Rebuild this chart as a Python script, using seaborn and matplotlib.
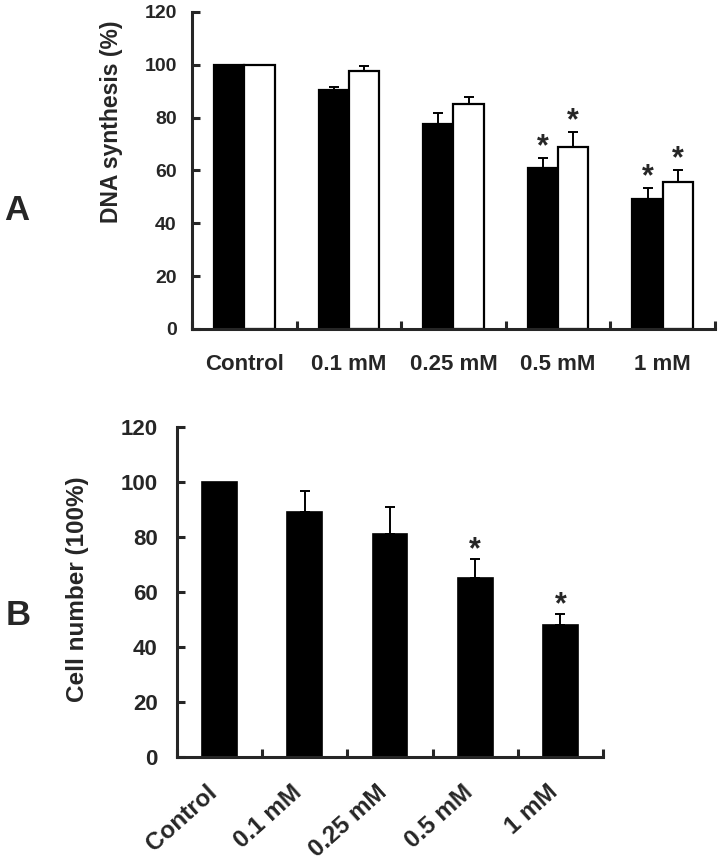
import pandas as pd
import matplotlib
matplotlib.use("Agg")
import matplotlib.pyplot as plt
import matplotlib.transforms as mtransforms
import seaborn as sns

# doses (shared by both panels)
doses = ["Control", "0.1 mM", "0.25 mM", "0.5 mM", "1 mM"]

# panel A - DNA synthesis (%), two series (filled / open bars)
dna_filled = [100, 90.5, 77.7, 61.1, 49.2]
dna_filled_err = [0, 1.0, 4.0, 3.8, 4.3]
dna_filled_sig = [False, False, False, True, True]
dna_open = [100, 97.6, 85.2, 69.0, 55.6]
dna_open_err = [0, 1.8, 2.8, 5.4, 4.6]
dna_open_sig = [False, False, False, True, True]

# panel B - cell number (100%)
cell_number = [100, 89.2, 81.1, 65.2, 48.0]
cell_err = [0, 7.7, 9.9, 6.7, 3.9]
cell_sig = [False, False, False, True, True]

yticks = [0, 20, 40, 60, 80, 100, 120]

sns.set_style("ticks")
plt.rcParams["font.family"] = ["Liberation Sans", "DejaVu Sans"]
plt.rcParams["font.weight"] = "bold"

fig = plt.figure(figsize=(7.22, 8.63), dpi=100)
ax_a = fig.add_axes([0.2659, 0.6188, 0.7244, 0.3673])
ax_b = fig.add_axes([0.2452, 0.1228, 0.5900, 0.3824])


def add_errors_and_stars(ax, bars, values, errs, sigs, star_pad):
    xs = [p.get_x() + p.get_width() / 2 for p in bars]
    keep = [i for i, e in enumerate(errs) if e > 0]
    ax.errorbar([xs[i] for i in keep], [values[i] for i in keep],
                yerr=[[0] * len(keep), [errs[i] for i in keep]],
                fmt="none", ecolor="black", elinewidth=1.4,
                capsize=3.8, capthick=1.4, zorder=1)
    for x, v, e, s in zip(xs, values, errs, sigs):
        if s:
            ax.annotate("*", xy=(x, v + e), xytext=(0, star_pad),
                        textcoords="offset points", ha="center",
                        va="baseline", fontsize=22, fontweight="bold")


def style_axis(ax, ytick_size, ytick_pad):
    sns.despine(ax=ax)
    for side in ["left", "bottom"]:
        ax.spines[side].set_linewidth(2.2)
    ax.set_ylim(0, 120)
    ax.set_xlim(-0.5, 4.5)
    ax.set_yticks(yticks)
    ax.set_xticks([i + 0.5 for i in range(-1, 5)], minor=True)
    ax.tick_params(axis="y", direction="in", length=6, width=2.2,
                   labelsize=ytick_size, pad=ytick_pad)
    ax.tick_params(axis="x", which="minor", direction="in", length=6, width=2.2)
    ax.tick_params(axis="x", which="major", length=0)
    ax.set_xlabel("")


# ---- panel A ----
df_a = pd.DataFrame({
    "dose": doses * 2,
    "value": dna_filled + dna_open,
    "series": ["filled"] * 5 + ["open"] * 5,
})
sns.barplot(data=df_a, x="dose", y="value", hue="series",
            palette=["black", "white"], edgecolor="black", linewidth=1.6,
            width=0.58, gap=0, saturation=1, errorbar=None, legend=False,
            ax=ax_a)
add_errors_and_stars(ax_a, ax_a.containers[0], dna_filled, dna_filled_err,
                     dna_filled_sig, 2)
add_errors_and_stars(ax_a, ax_a.containers[1], dna_open, dna_open_err,
                     dna_open_sig, 2)
style_axis(ax_a, 14, 11)
ax_a.tick_params(axis="x", which="major", labelsize=16, pad=18)
ax_a.set_ylabel("DNA synthesis (%)", fontsize=16.5, fontweight="bold")
ax_a.yaxis.set_label_coords(-0.132, 0.653)

# ---- panel B ----
df_b = pd.DataFrame({"dose": doses, "value": cell_number})
sns.barplot(data=df_b, x="dose", y="value", color="black",
            edgecolor="black", linewidth=1.2, width=0.41, saturation=1,
            errorbar=None, ax=ax_b)
add_errors_and_stars(ax_b, ax_b.containers[0], cell_number, cell_err,
                     cell_sig, 0.5)
style_axis(ax_b, 16, 14)
ax_b.tick_params(axis="x", which="major", labelsize=17.5, pad=23)
shift = mtransforms.ScaledTranslation(-6 / 100, 0, fig.dpi_scale_trans)
for lab in ax_b.get_xticklabels():
    lab.set_rotation(42)
    lab.set_ha("right")
    lab.set_va("center")
    lab.set_rotation_mode("anchor")
    lab.set_transform(lab.get_transform() + shift)
ax_b.set_ylabel("Cell number (100%)", fontsize=17.5, fontweight="bold")
ax_b.yaxis.set_label_coords(-0.2066, 0.509)

# panel letters
fig.text(17 / 722, 1 - 210 / 863, "A", fontsize=25, fontweight="bold",
         ha="center", va="center")
fig.text(18 / 722, 1 - 615 / 863, "B", fontsize=25, fontweight="bold",
         ha="center", va="center")

fig.savefig("out.png", dpi=100, facecolor="white")
